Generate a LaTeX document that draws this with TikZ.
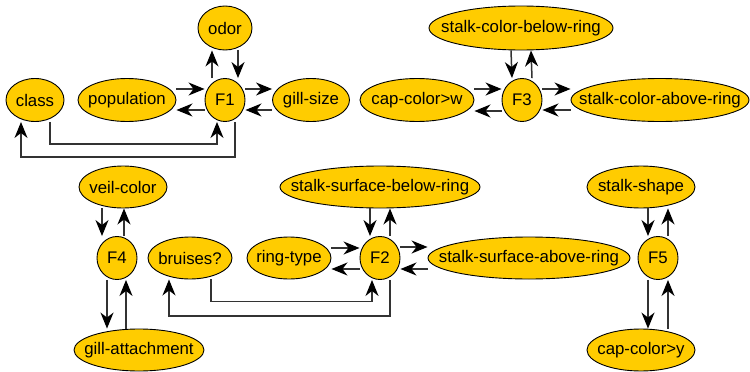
\documentclass[tikz,border=0pt]{standalone}
\usepackage{fontspec}
\setmainfont{Liberation Sans}
\usetikzlibrary{arrows.meta,calc,shapes.geometric}
\definecolor{fillY}{HTML}{FFCC00}
\definecolor{lineG}{HTML}{333333}
\newcommand\lbl[1]{\makebox[0pt][c]{#1}}
\begin{document}
\begin{tikzpicture}[x=1pt,y=-1pt,
  el/.style={ellipse,draw=black,line width=0.9pt,fill=fillY,inner sep=0pt,
    font=\fontsize{16.8}{20}\selectfont},
  fnode/.style={el,minimum width=40pt,minimum height=43pt},
  conn/.style={draw=lineG,line width=1.5pt,-{Stealth[length=16pt,width=13pt,inset=5pt,color=black]}}
]
\useasboundingbox (0,0) rectangle (750,372);
% group 1
\node[fnode] (F1) at (225,100) {\lbl{F1}};
\node[el,minimum width=54pt,minimum height=44pt] (odor) at (225,28) {\lbl{odor}};
\node[el,minimum width=58pt,minimum height=43pt] (class) at (35,100) {\lbl{class}};
\node[el,minimum width=98pt,minimum height=43pt] (pop) at (127,100) {\lbl{population}};
\node[el,minimum width=77pt,minimum height=43pt] (gill) at (311,100) {\lbl{gill-size}};
\draw[conn] ($(pop.east)+(0,-11)$) -- ($(F1.west)+(0,-11)$);
\draw[conn] ($(F1.west)+(0,10)$) -- ($(pop.east)+(0,10)$);
\draw[conn] ($(F1.east)+(0,-11)$) -- ($(gill.west)+(0,-11)$);
\draw[conn] ($(gill.west)+(0,10)$) -- ($(F1.east)+(0,10)$);
\draw[conn] ($(F1.north)+(-13,0)$) -- ($(odor.south)+(-13,0)$);
\draw[conn] ($(odor.south)+(13,0)$) -- ($(F1.north)+(13,0)$);
\draw[conn] ($(class.south)+(15,0)$) -- ++(0,22) -| ($(F1.south)+(-8,0)$);
\draw[conn] ($(F1.south)+(10,0)$) -- ++(0,35) -| ($(class.south)+(-14,0)$);
% group 3
\node[fnode] (F3) at (522,100) {\lbl{F3}};
\node[el,minimum width=184pt,minimum height=44pt] (scbr) at (521,28) {\lbl{stalk-color-below-ring}};
\node[el,minimum width=114pt,minimum height=43pt] (capw) at (417,100) {\lbl{cap-color>w}};
\node[el,minimum width=178pt,minimum height=43pt] (scar) at (660,100) {\lbl{stalk-color-above-ring}};
\draw[conn] ($(capw.east)+(0,-11)$) -- ($(F3.west)+(0,-11)$);
\draw[conn] ($(F3.west)+(0,11)$) -- ($(capw.east)+(0,11)$);
\draw[conn] ($(F3.east)+(0,-11)$) -- ($(scar.west)+(0,-11)$);
\draw[conn] ($(scar.west)+(0,10)$) -- ($(F3.east)+(0,10)$);
\draw[conn] ($(scbr.south)+(-10,0)$) -- ($(F3.north)+(-10,0)$);
\draw[conn] ($(F3.north)+(10,0)$) -- ($(scbr.south)+(10,0)$);
% group 4
\node[fnode] (F4) at (117,258) {\lbl{F4}};
\node[el,minimum width=88pt,minimum height=42pt] (veil) at (123,187) {\lbl{veil-color}};
\node[el,minimum width=130pt,minimum height=42pt] (gatt) at (139,350) {\lbl{gill-attachment}};
\draw[conn] (veil.south -| 102,0) -- (F4.north -| 102,0);
\draw[conn] (F4.north -| 124,0) -- (veil.south -| 124,0);
\draw[conn] (F4.south -| 107,0) -- (gatt.north -| 107,0);
\draw[conn] (gatt.north -| 126,0) -- (F4.south -| 126,0);
% group 2
\node[fnode] (F2) at (380,258) {\lbl{F2}};
\node[el,minimum width=84pt,minimum height=42pt] (bru) at (190,258) {\lbl{bruises?}};
\node[el,minimum width=84pt,minimum height=42pt] (ring) at (289,258) {\lbl{ring-type}};
\node[el,minimum width=200pt,minimum height=42pt] (ssbr) at (380,187) {\lbl{stalk-surface-below-ring}};
\node[el,minimum width=202pt,minimum height=42pt] (ssar) at (529,258) {\lbl{stalk-surface-above-ring}};
\draw[conn] ($(ring.east)+(0,-10)$) -- ($(F2.west)+(0,-10)$);
\draw[conn] ($(F2.west)+(0,11)$) -- ($(ring.east)+(0,11)$);
\draw[conn] ($(F2.east)+(0,-11)$) -- ($(ssar.west)+(0,-11)$);
\draw[conn] ($(ssar.west)+(0,11)$) -- ($(F2.east)+(0,11)$);
\draw[conn] ($(ssbr.south)+(-10,0)$) -- ($(F2.north)+(-10,0)$);
\draw[conn] ($(F2.north)+(10,0)$) -- ($(ssbr.south)+(10,0)$);
\draw[conn] ($(bru.south)+(21,0)$) -- ++(0,22) -| ($(F2.south)+(-8,0)$);
\draw[conn] ($(F2.south)+(10,0)$) -- ++(0,36) -| ($(bru.south)+(-21,0)$);
% group 5
\node[fnode] (F5) at (658,258) {\lbl{F5}};
\node[el,minimum width=108pt,minimum height=42pt] (ssh) at (641,187) {\lbl{stalk-shape}};
\node[el,minimum width=108pt,minimum height=42pt] (capy) at (641,350) {\lbl{cap-color>y}};
\draw[conn] (ssh.south -| 648,0) -- (F5.north -| 648,0);
\draw[conn] (F5.north -| 668,0) -- (ssh.south -| 668,0);
\draw[conn] (F5.south -| 648,0) -- (capy.north -| 648,0);
\draw[conn] (capy.north -| 668,0) -- (F5.south -| 668,0);
\end{tikzpicture}
\end{document}
